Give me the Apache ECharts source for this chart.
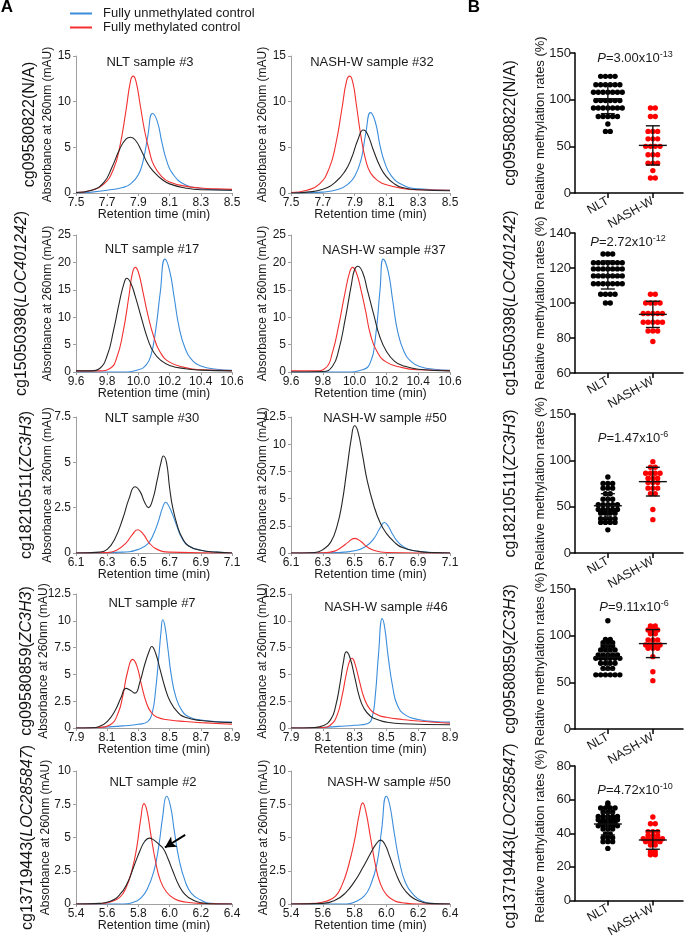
<!DOCTYPE html>
<html><head><meta charset="utf-8">
<script src="https://cdn.jsdelivr.net/npm/echarts@6/dist/echarts.min.js"></script>
<style>html,body{margin:0;padding:0;background:#fff}#c{width:685px;height:940px}</style>
</head><body><div id="c"></div>
<script>
// ---------- text / axes ----------
const cpgIds = ['cg09580822','cg15050398','cg18210511','cg09580859','cg13719443'];
const geneNames = ['N/A','LOC401242','ZC3H3','ZC3H3','LOC285847'];
const geneItalic = [false,true,true,true,true];
const nltTitles = ['NLT sample #3','NLT sample #17','NLT sample #30','NLT sample #7','NLT sample #2'];
const nashTitles = ['NASH-W sample #32','NASH-W sample #37','NASH-W sample #50','NASH-W sample #46','NASH-W sample #50'];
const timeMin = [7.5, 9.6, 6.1, 7.9, 5.4];
const absMaxNLT = [15, 25, 7.5, 12.5, 10];
const absMaxNASH = [15, 25, 12.5, 12.5, 10];
const absStepNLT = [5, 5, 2.5, 2.5, 2.5];
const absStepNASH = [5, 5, 2.5, 2.5, 2.5];
const groups = ['NLT','NASH-W'];
const rateMin = [0, 60, 0, 0, 0];
const rateMax = [150, 140, 150, 150, 80];
const rateStep = [50, 20, 50, 50, 20];
const pMantissa = ['3.00x10','2.72x10','1.47x10','9.11x10','4.72x10'];
const pExp = ['-13','-12','-6','-6','-10'];
const legendNames = ['Fully unmethylated control','Fully methylated control'];
const absName = 'Absorbance at 260nm (mAU)';
const timeName = 'Retention time (min)';
const rateName = 'Relative methylation rates (%)';

// ---------- chromatogram curves [time, mAU] ----------
const r1_nlt_unmeth = [[7.5,0],[7.6,0.1],[7.7,0.3],[7.8,0.6],[7.85,1.0],[7.9,2.0],[7.93,3.5],[7.96,6.2],[7.99,8.7],[8.02,7.9],[8.05,5.6],[8.08,3.6],[8.12,2.1],[8.2,0.9],[8.3,0.5],[8.4,0.35],[8.5,0.3]];
const r1_nlt_meth = [[7.5,0.05],[7.6,0.3],[7.68,1.0],[7.74,2.6],[7.78,5.0],[7.82,9.0],[7.85,12.3],[7.867,12.8],[7.885,12.2],[7.91,9.8],[7.94,6.8],[7.97,4.6],[8.0,3.0],[8.05,1.8],[8.1,1.2],[8.2,0.75],[8.3,0.55],[8.4,0.45],[8.5,0.4]];
const r1_nlt_sample = [[7.5,0.05],[7.6,0.3],[7.68,1.2],[7.73,2.8],[7.78,4.8],[7.82,5.9],[7.85,6.1],[7.88,5.8],[7.92,4.6],[7.96,3.2],[8.0,2.3],[8.05,1.5],[8.1,1.0],[8.2,0.55],[8.3,0.35],[8.5,0.3]];
const r1_nash_unmeth = [[7.5,0],[7.7,0.1],[7.8,0.4],[7.86,1.0],[7.9,1.8],[7.94,3.6],[7.97,6.5],[8.0,8.8],[8.03,7.8],[8.06,5.2],[8.09,3.3],[8.13,1.9],[8.2,0.9],[8.3,0.45],[8.5,0.3]];
const r1_nash_meth = [[7.5,0.05],[7.6,0.3],[7.68,1.0],[7.74,2.7],[7.78,5.2],[7.82,9.2],[7.85,12.3],[7.87,12.8],[7.89,12.0],[7.91,9.8],[7.94,6.2],[7.97,3.6],[8.0,2.2],[8.05,1.3],[8.1,0.9],[8.2,0.5],[8.3,0.35],[8.5,0.3]];
const r1_nash_sample = [[7.5,0],[7.6,0.1],[7.7,0.4],[7.78,1.2],[7.84,2.4],[7.88,3.8],[7.92,5.8],[7.955,6.9],[7.98,6.5],[8.02,4.6],[8.06,2.9],[8.1,1.8],[8.15,1.0],[8.2,0.6],[8.3,0.35],[8.5,0.25]];

const r2_nlt_unmeth = [[9.6,0],[9.9,0],[10.0,0.4],[10.05,1.3],[10.08,3.0],[10.11,7.5],[10.14,14.5],[10.17,20.6],[10.2,18.5],[10.23,13.5],[10.26,8.3],[10.3,4.3],[10.35,2.0],[10.4,1.1],[10.5,0.5],[10.6,0.3]];
const r2_nlt_meth = [[9.6,0.2],[9.75,0.2],[9.82,0.7],[9.86,2.5],[9.9,7.0],[9.94,14.0],[9.96,17.8],[9.98,19.1],[10.0,18.2],[10.03,14.5],[10.06,10.5],[10.1,6.3],[10.14,3.6],[10.2,1.8],[10.3,0.8],[10.4,0.4],[10.6,0.25]];
const r2_nlt_sample = [[9.6,0.2],[9.7,0.2],[9.75,0.6],[9.8,3.0],[9.84,7.5],[9.88,13.0],[9.91,16.4],[9.925,17.1],[9.95,16.3],[9.98,13.8],[10.02,9.8],[10.06,6.0],[10.1,3.5],[10.15,2.0],[10.2,1.2],[10.3,0.6],[10.4,0.35],[10.6,0.2]];
const r2_nash_unmeth = [[9.6,0],[9.95,0],[10.05,0.4],[10.1,1.8],[10.13,6.0],[10.16,15.0],[10.18,20.6],[10.21,18.5],[10.24,13.0],[10.27,7.5],[10.31,3.8],[10.36,1.8],[10.42,0.9],[10.5,0.5],[10.6,0.3]];
const r2_nash_meth = [[9.6,0.2],[9.75,0.2],[9.82,0.8],[9.86,3.5],[9.9,8.5],[9.94,14.5],[9.97,18.3],[9.987,19.1],[10.01,18.2],[10.04,15.0],[10.07,11.0],[10.1,6.8],[10.14,3.8],[10.2,1.8],[10.3,0.8],[10.4,0.4],[10.6,0.25]];
const r2_nash_sample = [[9.6,0],[9.8,0.1],[9.86,1.0],[9.9,4.0],[9.94,9.5],[9.98,16.0],[10.0,18.7],[10.02,19.3],[10.05,18.2],[10.08,15.0],[10.12,10.5],[10.16,6.3],[10.2,3.8],[10.25,2.0],[10.3,1.2],[10.4,0.5],[10.6,0.2]];

const r3_nlt_unmeth = [[6.1,0],[6.4,0.05],[6.5,0.2],[6.56,0.5],[6.6,1.1],[6.63,1.8],[6.655,2.5],[6.675,2.8],[6.7,2.5],[6.72,2.1],[6.75,1.4],[6.78,0.8],[6.82,0.4],[6.9,0.15],[7.0,0.05],[7.1,0]];
const r3_nlt_meth = [[6.1,0],[6.3,0.02],[6.36,0.15],[6.42,0.55],[6.46,1.0],[6.495,1.28],[6.53,1.05],[6.57,0.55],[6.62,0.2],[6.7,0.05],[7.1,0]];
const r3_nlt_sample = [[6.1,0],[6.25,0.05],[6.3,0.2],[6.35,0.8],[6.4,1.9],[6.44,3.0],[6.478,3.65],[6.51,3.4],[6.54,2.8],[6.564,2.5],[6.59,2.9],[6.62,4.0],[6.645,5.0],[6.66,5.35],[6.68,5.0],[6.7,3.6],[6.72,2.5],[6.75,1.5],[6.78,0.85],[6.82,0.4],[6.9,0.15],[7.0,0.05],[7.1,0]];
const r3_nash_unmeth = [[6.1,0],[6.4,0.05],[6.5,0.2],[6.57,0.6],[6.62,1.3],[6.66,2.3],[6.688,2.8],[6.71,2.5],[6.74,1.7],[6.78,0.9],[6.83,0.4],[6.9,0.15],[7.0,0.05],[7.1,0]];
const r3_nash_meth = [[6.1,0],[6.3,0.02],[6.37,0.15],[6.42,0.55],[6.46,1.0],[6.5,1.34],[6.54,1.05],[6.58,0.55],[6.63,0.2],[6.7,0.05],[7.1,0]];
const r3_nash_sample = [[6.1,0],[6.25,0.05],[6.3,0.3],[6.35,1.0],[6.39,2.5],[6.42,4.5],[6.45,7.5],[6.48,10.6],[6.5,11.7],[6.52,11.2],[6.55,9.0],[6.58,6.6],[6.62,4.4],[6.66,2.8],[6.7,1.8],[6.75,1.0],[6.8,0.5],[6.9,0.15],[7.0,0.03],[7.1,0]];

const r4_nlt_unmeth = [[7.9,0],[8.0,0.02],[8.1,0.1],[8.2,0.2],[8.3,0.35],[8.36,0.6],[8.39,1.5],[8.41,3.5],[8.43,6.5],[8.445,9.0],[8.456,10.1],[8.47,9.5],[8.49,7.3],[8.51,5.0],[8.54,2.9],[8.58,1.6],[8.63,1.0],[8.7,0.75],[8.8,0.6],[8.9,0.55]];
const r4_nlt_meth = [[7.9,0],[8.05,0.05],[8.12,0.3],[8.17,1.4],[8.2,3.0],[8.23,5.2],[8.263,6.4],[8.29,5.8],[8.32,4.0],[8.35,2.4],[8.38,1.5],[8.42,1.0],[8.5,0.75],[8.6,0.6],[8.7,0.5],[8.9,0.35]];
const r4_nlt_sample = [[7.9,0],[8.0,0.02],[8.05,0.15],[8.1,0.6],[8.15,1.6],[8.19,2.9],[8.22,3.7],[8.25,3.5],[8.278,3.25],[8.31,4.3],[8.34,5.9],[8.37,7.2],[8.385,7.6],[8.41,7.0],[8.44,5.4],[8.47,3.8],[8.5,2.6],[8.55,1.5],[8.6,1.0],[8.7,0.7],[8.9,0.5]];
const r4_nash_unmeth = [[7.9,0],[8.1,0.05],[8.2,0.15],[8.3,0.25],[8.38,0.4],[8.41,1.0],[8.43,3.0],[8.45,6.8],[8.474,10.2],[8.49,9.3],[8.51,6.8],[8.54,3.8],[8.57,2.1],[8.62,1.2],[8.7,0.8],[8.8,0.6],[8.9,0.55]];
const r4_nash_meth = [[7.9,0],[8.1,0.05],[8.15,0.3],[8.19,1.2],[8.22,2.9],[8.25,5.2],[8.27,6.3],[8.284,6.5],[8.3,6.1],[8.33,4.4],[8.36,2.8],[8.4,1.7],[8.45,1.2],[8.5,1.0],[8.6,0.8],[8.7,0.65],[8.9,0.45]];
const r4_nash_sample = [[7.9,0],[8.05,0.05],[8.1,0.2],[8.15,0.8],[8.18,2.0],[8.21,4.3],[8.23,6.2],[8.248,7.1],[8.27,6.6],[8.3,4.8],[8.33,2.9],[8.36,1.8],[8.4,1.1],[8.45,0.75],[8.5,0.55],[8.6,0.4],[8.9,0.3]];

const r5_nlt_unmeth = [[5.4,0],[5.7,0],[5.76,0.1],[5.82,0.5],[5.86,1.2],[5.9,2.5],[5.93,4.3],[5.955,6.5],[5.981,8.1],[6.005,7.4],[6.03,5.5],[6.06,3.4],[6.1,1.7],[6.14,0.8],[6.2,0.3],[6.26,0.05],[6.4,0]];
const r5_nlt_meth = [[5.4,0],[5.55,0.02],[5.62,0.15],[5.68,0.5],[5.72,1.2],[5.76,2.6],[5.79,4.3],[5.815,6.4],[5.836,7.55],[5.855,7.0],[5.88,5.2],[5.91,3.2],[5.94,1.8],[5.98,0.9],[6.03,0.4],[6.1,0.15],[6.2,0.05],[6.4,0]];
const r5_nlt_sample = [[5.4,0],[5.55,0.05],[5.62,0.2],[5.68,0.7],[5.73,1.6],[5.77,2.8],[5.81,4.0],[5.84,4.7],[5.87,4.95],[5.9,4.8],[5.93,4.5],[5.96,4.15],[5.99,3.4],[6.02,2.5],[6.06,1.4],[6.1,0.7],[6.15,0.3],[6.2,0.1],[6.3,0],[6.4,0]];
const r5_nash_unmeth = [[5.4,0],[5.75,0],[5.8,0.15],[5.86,0.6],[5.9,1.4],[5.94,3.0],[5.97,5.6],[5.999,8.1],[6.02,7.5],[6.05,5.3],[6.08,3.3],[6.12,1.6],[6.17,0.7],[6.22,0.25],[6.3,0.03],[6.4,0]];
const r5_nash_meth = [[5.4,0],[5.55,0.05],[5.62,0.2],[5.68,0.6],[5.72,1.4],[5.76,2.8],[5.8,4.8],[5.83,6.8],[5.851,7.6],[5.87,7.0],[5.9,5.0],[5.93,3.0],[5.96,1.6],[6.0,0.7],[6.05,0.25],[6.1,0.1],[6.2,0],[6.4,0]];
const r5_nash_sample = [[5.4,0],[5.6,0.05],[5.68,0.3],[5.74,0.8],[5.8,1.7],[5.85,2.7],[5.9,3.8],[5.935,4.5],[5.963,4.8],[5.99,4.5],[6.02,3.6],[6.06,2.3],[6.1,1.3],[6.15,0.6],[6.2,0.25],[6.27,0.05],[6.4,0]];
const r5_arrow = [[6.1,5.2],[5.97,4.25]];

// ---------- relative methylation rates (%) ----------
const s1_nlt = [125,125,125,125,116,116,116,116,116,116,108,108,108,108,108,108,108,99,99,99,99,99,99,91,91,91,91,91,91,91,82,82,82,82,82,74,66,66];
const s1_nash = [91,91,82,82,66,66,66,58,58,58,50,50,50,50,41,41,41,32,32,32,24,16,16];
const s2_nlt = [128,128,128,123,123,123,123,123,123,123,119.5,119.5,119.5,119.5,119.5,119.5,119.5,115.5,115.5,115.5,115.5,115.5,115.5,115.5,111,111,111,111,111,111,111,105,105,105,105,100,100];
const s2_nash = [105,105,100,100,100,100,94,94,94,94,94,89,89,89,89,89,84,84,84,78];
const s3_nlt = [82,75,75,75,70,70,70,64,64,58,58,58,52,52,52,52,52,47,47,47,47,47,43,43,43,43,37,37,37,37,33,33,33,33,25];
const s3_nash = [98.5,92.5,92.5,86,86,86,86,80.6,80.6,80.6,76,76,76,70,70,70,64,64,47,36];
const s4_nlt = [116,96,96,92.5,92.5,92.5,89,89,89,84.6,84.6,84.6,84.6,79.3,79.3,79.3,79.3,79.3,75.7,75.7,75.7,75.7,75.7,75.7,70.4,70.4,70.4,70.4,65,65,65,58,58,58,58,58,58];
const s4_nash = [110.4,110.4,106,106,106,102,102,95.4,95.4,95.4,90,90,90,90,86.4,86.4,86.4,77.5,61.4,51.8];
const s5_nlt = [58,57,55,55,55,55,52.6,52.6,52.6,50,50,50,50,50,48,48,48,48,48,46.3,46.3,46.3,46.3,44.4,44.4,44.4,44.4,44.4,42.5,42.5,42.5,39.6,39.6,37.3,37.3,37.3,35,35,35,31];
const s5_nash = [49.7,45.7,45.7,41,41,41,38.7,38.7,38.7,36.8,36.8,36.8,36.8,36.8,35,35,35,35,33,33,29,29,27.2,27.2];
const meanNLT = [101, 116, 51, 77, 45.5];
const sdNLT = [16, 8, 13, 13.5, 6.5];
const meanNASH = [51, 93.5, 77, 91.5, 36];
const sdNASH = [21, 7.5, 15.5, 15, 5.5];

// ---------- assemble ----------
const chromaData = [
  [[r1_nlt_unmeth,r1_nlt_meth,r1_nlt_sample],[r1_nash_unmeth,r1_nash_meth,r1_nash_sample]],
  [[r2_nlt_unmeth,r2_nlt_meth,r2_nlt_sample],[r2_nash_unmeth,r2_nash_meth,r2_nash_sample]],
  [[r3_nlt_unmeth,r3_nlt_meth,r3_nlt_sample],[r3_nash_unmeth,r3_nash_meth,r3_nash_sample]],
  [[r4_nlt_unmeth,r4_nlt_meth,r4_nlt_sample],[r4_nash_unmeth,r4_nash_meth,r4_nash_sample]],
  [[r5_nlt_unmeth,r5_nlt_meth,r5_nlt_sample],[r5_nash_unmeth,r5_nash_meth,r5_nash_sample]]
];
const scatterData = [[s1_nlt,s1_nash],[s2_nlt,s2_nash],[s3_nlt,s3_nash],[s4_nlt,s4_nash],[s5_nlt,s5_nash]];

const FONT = '"Liberation Sans", Arial, Helvetica, sans-serif';
const TXT = '#1a1a1a';
const curveColors = ['#3b8ddb', '#f2302f', '#262626'];
const curveNames = [legendNames[0], legendNames[1], 'Sample'];
const rowTop = [56, 235, 417, 594, 771];
const rowH = [137, 137, 136, 134, 133];
const scTop = [53, 233, 414, 589, 766];
const scH = [140, 140, 139, 140, 140];
const panelLeft = [76, 291];
const panelW = [156, 159];
const titleY = [[62,62],[249,250],[418,418],[603,607],[782,782]];
const titleX = [[150,372],[152,384],[152,385],[152,386],[153,389]];
const pPos = [[635,58],[628,242],[633,438],[634,607],[635,790]];
const rowLabelX = [30, 22, 27, 27, 28];
const absNameX = [[48,263],[48,263],[48,263],[44,263],[46,264]];

const grids = [], xAxes = [], yAxes = [], series = [], graphics = [];
function txt(x, y, text, size, opts) {
  return Object.assign({type: 'text', x: x, y: y, silent: true,
    style: Object.assign({text: text, fontSize: size, fontFamily: FONT, fill: TXT, align: 'center', verticalAlign: 'middle'}, (opts && opts.style) || {})},
    (opts && opts.el) || {});
}
let g = 0;
for (let r = 0; r < 5; r++) {
  for (let s = 0; s < 2; s++) {
    grids.push({left: panelLeft[s], top: rowTop[r], width: panelW[s], height: rowH[r]});
    xAxes.push({gridIndex: g, type: 'value', min: timeMin[r], max: timeMin[r] + 1, interval: 0.2,
      axisLine: {lineStyle: {color: '#a0a0a0', width: 1}},
      axisTick: {show: true, length: 3, lineStyle: {color: '#a0a0a0'}},
      axisLabel: {formatter: v => (+v).toFixed(1), fontSize: 12, color: TXT, margin: 4, fontFamily: FONT, showMinLabel: true, showMaxLabel: true},
      splitLine: {show: false}});
    const ymax = s === 0 ? absMaxNLT[r] : absMaxNASH[r];
    const ystep = s === 0 ? absStepNLT[r] : absStepNASH[r];
    yAxes.push({gridIndex: g, type: 'value', min: 0, max: ymax, interval: ystep,
      axisLine: {show: true, lineStyle: {color: '#a0a0a0', width: 1}},
      axisTick: {show: true, length: 3, lineStyle: {color: '#a0a0a0'}},
      axisLabel: {fontSize: 12, color: TXT, margin: 5, fontFamily: FONT},
      splitLine: {show: false}});
    chromaData[r][s].forEach((curve, ci) => {
      const ser = {type: 'line', name: curveNames[ci], xAxisIndex: g, yAxisIndex: g, data: curve,
        showSymbol: false, symbol: 'none', smooth: 0.5, clip: true,
        lineStyle: {color: curveColors[ci], width: 1.1}, itemStyle: {color: curveColors[ci]}, z: 2 + ci, silent: true};
      if (r === 4 && s === 0 && ci === 2) {
        ser.markLine = {silent: true, symbol: ['none', 'arrow'], symbolSize: [9, 11],
          lineStyle: {color: '#000', width: 2, type: 'solid'}, label: {show: false},
          data: [[{coord: r5_arrow[0]}, {coord: r5_arrow[1]}]]};
      }
      series.push(ser);
    });
    // panel title, axis names
    graphics.push(txt(titleX[r][s], titleY[r][s], s === 0 ? nltTitles[r] : nashTitles[r], 13));
    graphics.push(txt(panelLeft[s] + panelW[s] / 2, rowTop[r] + rowH[r] + 22, timeName, 12.5));
    graphics.push(txt(absNameX[r][s], rowTop[r] + rowH[r] / 2, absName, 12, {el: {rotation: Math.PI / 2}}));
    g++;
  }
  const lbl = geneItalic[r] ? cpgIds[r] + '({i|' + geneNames[r] + '})' : cpgIds[r] + '(' + geneNames[r] + ')';
  const richI = {i: {fontSize: 16, fontStyle: 'italic', fontFamily: FONT, fill: '#111'}};
  graphics.push(txt(rowLabelX[r], rowTop[r] + rowH[r] / 2, lbl, 16, {el: {rotation: Math.PI / 2}, style: {fill: '#111', rich: richI}}));
  graphics.push(txt(511, scTop[r] + scH[r] / 2, lbl, 16, {el: {rotation: Math.PI / 2}, style: {fill: '#111', rich: richI}}));
}

function swarm(vals, xc) {
  const counts = {}, seen = {};
  vals.forEach(v => counts[v] = (counts[v] || 0) + 1);
  return vals.map(v => { seen[v] = seen[v] || 0; const k = seen[v]++; return [xc, v, k, counts[v]]; });
}
const SP = 4.8, RD = 2.7;
const dotColors = ['#000000', '#ff0000'];
for (let r = 0; r < 5; r++) {
  grids.push({left: 575, top: scTop[r], width: 108, height: scH[r]});
  xAxes.push({gridIndex: g, type: 'value', min: 0.27, max: 2.67,
    axisLine: {lineStyle: {color: '#000', width: 1.5}},
    axisTick: {show: true, customValues: [1, 2], length: 5, lineStyle: {color: '#000', width: 1.5}},
    axisLabel: {customValues: [1, 2], formatter: v => groups[Math.round(v) - 1] || '', rotate: 30, fontSize: 12.5, color: TXT, margin: 7, fontFamily: FONT},
    splitLine: {show: false}});
  yAxes.push({gridIndex: g, type: 'value', min: rateMin[r], max: rateMax[r], interval: rateStep[r],
    axisLine: {show: true, lineStyle: {color: '#000', width: 1.5}},
    axisTick: {show: true, length: 5, lineStyle: {color: '#000', width: 1.5}},
    axisLabel: {fontSize: 13, color: TXT, margin: 4, fontFamily: FONT},
    splitLine: {show: false}});
  scatterData[r].forEach((vals, gi) => {
    series.push({type: 'custom', xAxisIndex: g, yAxisIndex: g, data: swarm(vals, gi + 1), encode: {x: 0, y: 1}, silent: true, z: 3,
      renderItem: (params, api) => {
        const p = api.coord([api.value(0), api.value(1)]);
        const k = api.value(2), n = api.value(3);
        return {type: 'circle', shape: {cx: p[0] + (k - (n - 1) / 2) * SP, cy: p[1], r: RD}, style: {fill: dotColors[gi]}};
      }});
  });
  series.push({type: 'custom', xAxisIndex: g, yAxisIndex: g, silent: true, z: 5, encode: {x: 0, y: 1},
    data: [[1, meanNLT[r], sdNLT[r]], [2, meanNASH[r], sdNASH[r]]],
    renderItem: (params, api) => {
      const x = api.value(0), m = api.value(1), sd = api.value(2);
      const c = api.coord([x, m]), t = api.coord([x, m + sd]), b = api.coord([x, m - sd]);
      const st = {stroke: '#111', lineWidth: 1.4};
      return {type: 'group', children: [
        {type: 'line', shape: {x1: c[0] - 14, y1: c[1], x2: c[0] + 14, y2: c[1]}, style: st},
        {type: 'line', shape: {x1: c[0], y1: t[1], x2: c[0], y2: b[1]}, style: st},
        {type: 'line', shape: {x1: c[0] - 7, y1: t[1], x2: c[0] + 7, y2: t[1]}, style: st},
        {type: 'line', shape: {x1: c[0] - 7, y1: b[1], x2: c[0] + 7, y2: b[1]}, style: st}
      ]};
    }});
  graphics.push(txt(pPos[r][0], pPos[r][1], '{i|P}=' + pMantissa[r] + '{s|' + pExp[r] + '}', 13, {style: {lineHeight: 16,
      rich: {i: {fontSize: 13, fontStyle: 'italic', fontFamily: FONT, fill: TXT, lineHeight: 16},
             s: {fontSize: 9, fontFamily: FONT, fill: TXT, verticalAlign: 'top', lineHeight: 9}}}}));
  graphics.push(txt(540, scTop[r] + scH[r] / 2, rateName, 13, {el: {rotation: Math.PI / 2}}));
  g++;
}
graphics.push(txt(7, 7, 'A', 17, {style: {fontWeight: 'bold', fill: '#000'}}));
graphics.push(txt(474, 7, 'B', 17, {style: {fontWeight: 'bold', fill: '#000'}}));

const option = {
  animation: false,
  backgroundColor: '#fff',
  legend: {data: legendNames, orient: 'vertical', left: 70, top: 7, padding: 0, itemWidth: 22, itemHeight: 2, itemGap: 1, icon: 'rect',
    textStyle: {fontSize: 13, color: TXT, fontFamily: FONT, lineHeight: 13, padding: [0, 0, 0, 6]}, selectedMode: false},
  grid: grids, xAxis: xAxes, yAxis: yAxes, series: series, graphic: graphics
};
const chart = echarts.init(document.getElementById('c'), null, {renderer: 'canvas'});
chart.setOption(option);
</script></body></html>
